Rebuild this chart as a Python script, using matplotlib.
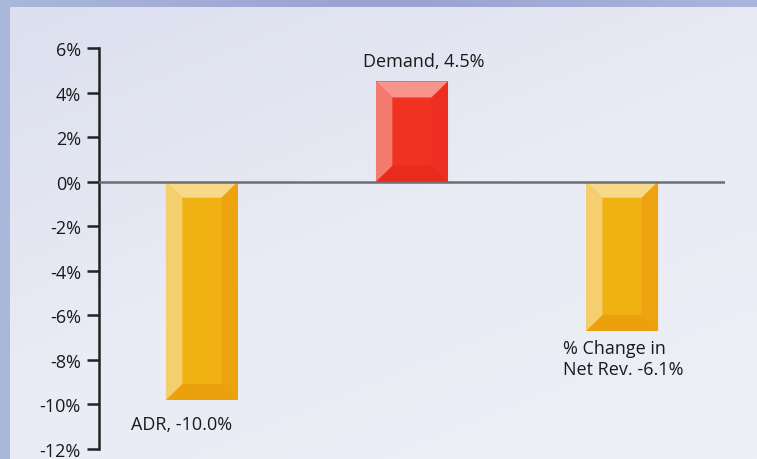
import numpy as np
import matplotlib
matplotlib.use('Agg')
import matplotlib.pyplot as plt
from matplotlib.patches import Polygon

plt.rcParams['font.family'] = ['Open Sans', 'DejaVu Sans']

categories = ['ADR', 'Demand', 'Net Rev.']
values = [-9.8, 4.5, -6.7]          # bar heights as drawn
labels = ['ADR, -10.0%', 'Demand, 4.5%', '% Change in\nNet Rev. -6.1%']
yticks = [6, 4, 2, 0, -2, -4, -6, -8, -10, -12]

gold = dict(face='#f0b212', left='#f5cf6e', top='#f8d98a', right='#eca30f', bottom='#eba10e')
red = dict(face='#f03223', left='#f57a70', top='#f7958c', right='#ee2e20', bottom='#e82b1d')
colors = [gold, red, gold]

fig = plt.figure(figsize=(7.57, 4.6), dpi=100)

# background: bluish frame + light panel
bg = fig.add_axes([0, 0, 1, 1])
bg.set_xlim(0, 757)
bg.set_ylim(460, 0)
bg.axis('off')
frame = np.linspace(0, 1, 256).reshape(1, -1)
bg.imshow(frame, extent=[0, 757, 460, 0], aspect='auto',
          cmap=matplotlib.colors.LinearSegmentedColormap.from_list('f', ['#aab8dc', '#9aa2d0', '#a9b6dc']))
panel = np.linspace(0, 1, 256).reshape(-1, 1) * 0.6 + np.linspace(0, 1, 256).reshape(1, -1) * 0.4
bg.imshow(panel, extent=[10, 757, 460, 8], aspect='auto',
          cmap=matplotlib.colors.LinearSegmentedColormap.from_list('p', ['#dcdfee', '#e9ebf5', '#eef0f7']))

ax = fig.add_axes([99 / 757, 1 - 450 / 460, 626 / 757, 401 / 460])
ax.patch.set_alpha(0)
x = np.arange(len(categories))
w = 0.343
bars = ax.bar(x, values, width=w, color=[c['face'] for c in colors], zorder=2)

bx = 0.078   # bevel in data units
by = 0.72
for b, c in zip(bars, colors):
    x0 = b.get_x()
    x1 = x0 + b.get_width()
    y0 = min(0, b.get_height())
    y1 = max(0, b.get_height())
    corners = [(x0, y1), (x1, y1), (x1, y0), (x0, y0)]
    inner = [(x0 + bx, y1 - by), (x1 - bx, y1 - by), (x1 - bx, y0 + by), (x0 + bx, y0 + by)]
    sides = [('top', 0, 1), ('right', 1, 2), ('bottom', 2, 3), ('left', 3, 0)]
    for name, i, j in sides:
        ax.add_patch(Polygon([corners[i], corners[j], inner[j], inner[i]],
                             closed=True, facecolor=c[name], edgecolor='none', zorder=3))

ax.axhline(0, color='#6e6e6e', lw=1.8, zorder=4)

ax.set_xlim(-0.49, 2.49)
ax.set_ylim(-12, 6)
ax.set_yticks(yticks)
ax.set_yticklabels(['%d%%' % t for t in yticks], fontsize=13, color='#1a1a1a')
ax.set_xticks([])
for s in ['top', 'right', 'bottom']:
    ax.spines[s].set_visible(False)
ax.spines['left'].set_color('#222222')
ax.spines['left'].set_linewidth(1.8)
ax.tick_params(axis='y', length=9, width=1.8, color='#222222', pad=4)

ax.text(-0.098, -10.9, labels[0], ha='center', va='center', fontsize=13, color='#1a1a1a')
ax.text(1.057, 5.4, labels[1], ha='center', va='center', fontsize=13, color='#1a1a1a')
ax.text(1.72, -7.95, labels[2], ha='left', va='center', fontsize=13, color='#1a1a1a',
        linespacing=1.2)

fig.savefig('out.png', dpi=100)
